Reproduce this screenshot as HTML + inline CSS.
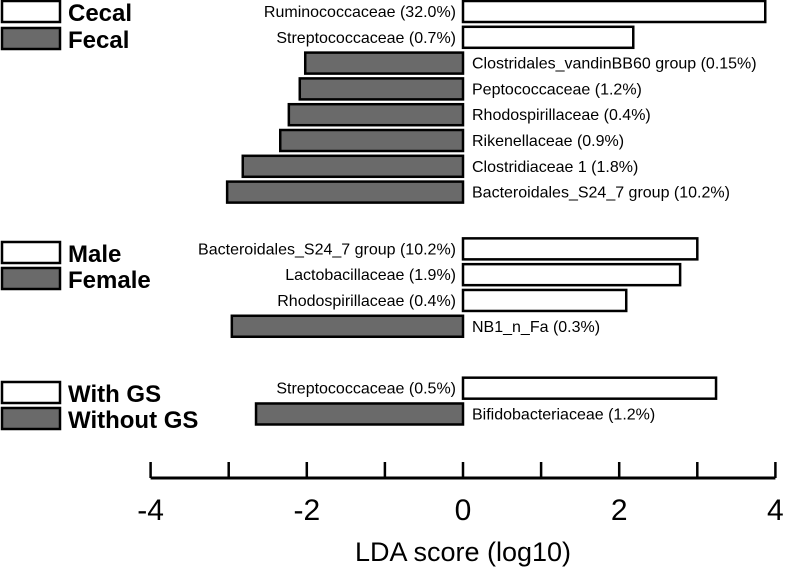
<!DOCTYPE html>
<html><head><meta charset="utf-8"><style>
body{margin:0;background:#fff;}
svg{display:block;font-family:"Liberation Sans",Arial,sans-serif;}
</style></head><body>
<svg id="chart" width="785" height="579" viewBox="0 0 785 579">
<g id="legends">
 <rect x="2" y="1" width="58" height="21" fill="#fff" stroke="#000" stroke-width="2.5"/>
 <text x="68" y="21" font-size="24" font-weight="bold">Cecal</text>
 <rect x="2" y="28" width="58" height="21" fill="#6a6a6a" stroke="#000" stroke-width="2.5"/>
 <text x="68" y="48" font-size="24" font-weight="bold">Fecal</text>
 <rect x="2" y="242" width="58" height="21" fill="#fff" stroke="#000" stroke-width="2.5"/>
 <text x="68" y="262" font-size="24" font-weight="bold">Male</text>
 <rect x="2" y="268" width="58" height="21" fill="#6a6a6a" stroke="#000" stroke-width="2.5"/>
 <text x="68" y="288" font-size="24" font-weight="bold">Female</text>
 <rect x="2" y="382" width="58" height="21" fill="#fff" stroke="#000" stroke-width="2.5"/>
 <text x="68" y="402" font-size="24" font-weight="bold">With GS</text>
 <rect x="2" y="408" width="58" height="21" fill="#6a6a6a" stroke="#000" stroke-width="2.5"/>
 <text x="68" y="428" font-size="24" font-weight="bold">Without GS</text>
</g>
<g id="bars"></g>
<g id="axis"></g>
</svg>
<script>
const labels = ["Ruminococcaceae (32.0%)","Streptococcaceae (0.7%)","Clostridales_vandinBB60 group (0.15%)","Peptococcaceae (1.2%)","Rhodospirillaceae (0.4%)","Rikenellaceae (0.9%)","Clostridiaceae 1 (1.8%)","Bacteroidales_S24_7 group (10.2%)","Bacteroidales_S24_7 group (10.2%)","Lactobacillaceae (1.9%)","Rhodospirillaceae (0.4%)","NB1_n_Fa (0.3%)","Streptococcaceae (0.5%)","Bifidobacteriaceae (1.2%)"];
const scores = [3.87,2.18,-2.02,-2.09,-2.23,-2.34,-2.82,-3.02,3.0,2.78,2.09,-2.96,3.24,-2.65];
const rows = [0,1,2,3,4,5,6,7,9.2,10.2,11.2,12.2,14.6,15.6];
const ticks = [-4,-3,-2,-1,0,1,2,3,4];
const tickLabels = [-4,-2,0,2,4];
const NS="http://www.w3.org/2000/svg";
const x = v => 463 + v*78.1;
const y = r => 1 + r*25.8;
const bars=document.getElementById('bars'), axis=document.getElementById('axis');
function mk(tag,attrs,parent){const e=document.createElementNS(NS,tag);for(const k in attrs)e.setAttribute(k,attrs[k]);parent.appendChild(e);return e;}
scores.forEach((s,i)=>{
  const x0=Math.min(x(0),x(s)), w=Math.abs(x(s)-x(0));
  const r=mk('rect',{x:x0,y:y(rows[i]),width:w,height:21,fill:s>0?'#fff':'#6a6a6a',stroke:'#000','stroke-width':2.5},bars);
  
  
  const t=mk('text',{x:s>0?x(0)-7:x(0)+9,y:y(rows[i])+16,'font-size':16,'text-anchor':s>0?'end':'start'},bars);
  t.textContent=labels[i];
  
  
});
const al=mk('line',{x1:x(-4),x2:x(4),y1:478,y2:478,stroke:'#000','stroke-width':3},axis);


ticks.forEach(v=>{
  const l=mk('line',{x1:x(v),x2:x(v),y1:462,y2:478,stroke:'#000','stroke-width':2.5},axis);
  
  
});
tickLabels.forEach(v=>{
  const t=mk('text',{x:x(v),y:520,'font-size':30,'text-anchor':'middle'},axis);
  t.textContent=v;
  
  
});
const tt=mk('text',{x:463,y:561,'font-size':27,'text-anchor':'middle'},axis);
tt.textContent='LDA score (log10)';


</script>
</body></html>
